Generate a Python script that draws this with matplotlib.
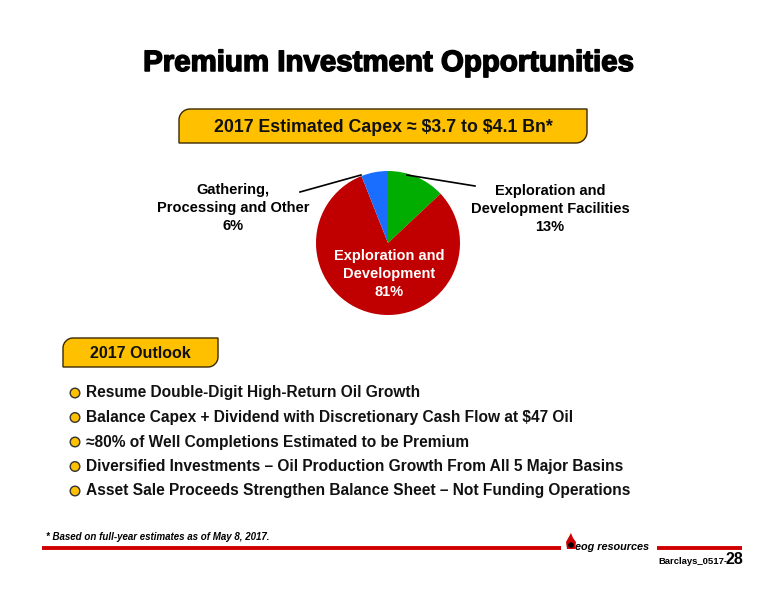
import matplotlib
matplotlib.use("Agg")
import matplotlib.pyplot as plt
import matplotlib.patheffects as pe
from matplotlib.path import Path
from matplotlib.patches import PathPatch, Circle, Polygon

plt.rcParams['font.family'] = ['Liberation Sans', 'DejaVu Sans']

# data
slice_names = ["Exploration and\nDevelopment Facilities", "Exploration and\nDevelopment",
               "Gathering,\nProcessing and Other"]
slice_pcts = [13, 81, 6]
slice_colors = ["#00AD00", "#C00000", "#1A6EFF"]

title = "Premium Investment Opportunities"
capex_text = "2017 Estimated Capex \u2248 \\$3.7 to \\$4.1 Bn*"
outlook_text = "2017 Outlook"
bullets = [
    "Resume Double-Digit High-Return Oil Growth",
    "Balance Capex + Dividend with Discretionary Cash Flow at \\$47 Oil",
    "\u224880% of Well Completions Estimated to be Premium",
    "Diversified Investments \u2013 Oil Production Growth From All 5 Major Basins",
    "Asset Sale Proceeds Strengthen Balance Sheet \u2013 Not Funding Operations",
]
footnote = "* Based on full-year estimates as of May 8, 2017."

GOLD = "#FFC000"

fig = plt.figure(figsize=(7.76, 6), dpi=100)

# pie axes first so the overlay text sits on top
pax = fig.add_axes([(388 - 72) / 776, (600 - 243 - 72) / 600, 144 / 776, 144 / 600])
pax.pie(slice_pcts, colors=slice_colors, startangle=90, counterclock=False, radius=1)
pax.set_xlim(-1, 1)
pax.set_ylim(-1, 1)
pax.axis("off")

ax = fig.add_axes([0, 0, 1, 1])
ax.set_xlim(0, 776)
ax.set_ylim(600, 0)
ax.axis("off")


def tab_box(x0, y0, x1, y1, r):
    # rounded top-left and bottom-right corners
    k = 0.55
    verts = [(x0, y1), (x0, y0 + r), (x0, y0 + r * (1 - k)), (x0 + r * (1 - k), y0), (x0 + r, y0),
             (x1, y0), (x1, y1 - r), (x1, y1 - r * (1 - k)), (x1 - r * (1 - k), y1), (x1 - r, y1),
             (x0, y1), (x0, y1)]
    codes = [Path.MOVETO, Path.LINETO, Path.CURVE4, Path.CURVE4, Path.CURVE4,
             Path.LINETO, Path.LINETO, Path.CURVE4, Path.CURVE4, Path.CURVE4,
             Path.LINETO, Path.CLOSEPOLY]
    ax.add_patch(PathPatch(Path(verts, codes), facecolor=GOLD, edgecolor="#3A2A00", lw=1.0))


ax.text(388, 63, title, ha="center", va="center", fontsize=21.2, fontweight="bold",
        path_effects=[pe.withStroke(linewidth=1.1, foreground="black")])

tab_box(179, 109, 587, 143, 11)
ax.text(383, 127, capex_text, ha="center", va="center", fontsize=12.8, fontweight="bold",
        color="#111111")

ax.plot([300, 361], [192, 175], color="black", lw=1.2)
ax.plot([407, 475], [175, 186], color="black", lw=1.2)
lab_kw = dict(ha="center", va="center", fontsize=10.5, fontweight="bold", linespacing=1.4)
ax.text(233, 208, f"{slice_names[2]}\n{slice_pcts[2]}%", **lab_kw)
ax.text(550, 209, f"{slice_names[0]}\n{slice_pcts[0]}%", **lab_kw)
ax.text(389, 274, f"{slice_names[1]}\n{slice_pcts[1]}%", color="white", **lab_kw)

# outlook
tab_box(63, 338, 218, 367, 10)
ax.text(140, 353, outlook_text, ha="center", va="center", fontsize=11.5, fontweight="bold",
        color="#111111")

for i, b in enumerate(bullets):
    y = 393 + i * 24.5
    ax.add_patch(Circle((75, y), 4.8, facecolor=GOLD, edgecolor="#333333", lw=1.0))
    ax.text(86, y, b, ha="left", va="center", fontsize=11.2, fontweight="bold", color="#111111")

# footer
ax.text(46, 537, footnote, ha="left", va="center", fontsize=7.05, fontweight="bold",
        style="italic")
ax.plot([42, 561], [548, 548], color="#D00000", lw=2.8, solid_capstyle="butt")
ax.plot([657, 742], [548, 548], color="#D00000", lw=2.8, solid_capstyle="butt")
ax.add_patch(Polygon([(571, 533), (566, 542), (567, 549), (575, 549), (576, 542), (573, 538)],
                     closed=True, facecolor="#D00000", edgecolor="none"))
ax.add_patch(Circle((571, 545), 2.8, facecolor="black"))
ax.text(575, 547, "eog resources", ha="left", va="center", fontsize=7.8, fontweight="bold",
        style="italic")
ax.text(727, 564, "Barclays_0517-", ha="right", va="baseline", fontsize=6.8, fontweight="bold")
ax.text(743, 564, "28", ha="right", va="baseline", fontsize=11.5, fontweight="bold")

fig.savefig("out.png", dpi=100)
